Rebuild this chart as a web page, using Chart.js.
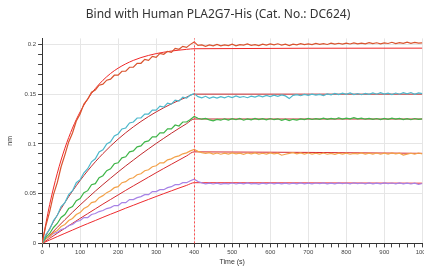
<!DOCTYPE html>
<html>
<head>
<meta charset="utf-8">
<script src="https://cdn.jsdelivr.net/npm/chart.js@4.4.0/dist/chart.umd.min.js"></script>
<style>
  html, body { margin: 0; padding: 0; background: #fff; overflow: hidden; }
  #wrap { width: 430px; height: 269px; }
</style>
</head>
<body>
<div id="wrap"><canvas id="bli" width="430" height="269"></canvas></div>
<script>
// sampling times of the raw curves (s)
const times = [0,10,20,30,40,50,60,70,80,90,100,110,120,130,140,150,160,170,180,190,200,
  210,220,230,240,250,260,270,280,290,300,310,320,330,340,350,360,370,380,390,400,
  410,420,430,440,450,460,470,480,490,500,510,520,530,540,550,560,570,580,590,600,
  610,620,630,640,650,660,670,680,690,700,710,720,730,740,750,760,770,780,790,800,
  810,820,830,840,850,860,870,880,890,900,910,920,930,940,950,960,970,980,990,1000];

// raw response (nm)
const redData = [0,0.018,0.032,0.049,0.061,0.077,0.089,0.102,0.111,0.123,0.130,0.140,0.145,0.152,0.154,0.159,0.160,0.164,0.165,0.169,0.169,
  0.173,0.173,0.177,0.177,0.181,0.181,0.185,0.184,0.188,0.187,0.191,0.190,0.193,0.192,0.196,0.195,0.198,0.197,0.200,0.2025,
  0.199,0.1995,0.198,0.1995,0.1985,0.2,0.1985,0.1995,0.1988,0.2002,0.1985,0.1998,0.1992,0.2005,0.199,0.1998,0.1988,0.2003,0.1992,0.2004,
  0.1995,0.2006,0.1993,0.2002,0.1988,0.2003,0.1996,0.2008,0.1998,0.2005,0.1997,0.2010,0.2,0.2008,0.1999,0.2012,0.2003,0.2011,0.2002,0.2013,
  0.2004,0.2015,0.2006,0.2012,0.2005,0.2018,0.2008,0.2016,0.2006,0.2014,0.2009,0.2021,0.2008,0.2017,0.2010,0.2022,0.2011,0.2019,0.2012,0.2016];
const cyanData = [0,0.009,0.014,0.023,0.028,0.037,0.041,0.049,0.053,0.061,0.064,0.071,0.075,0.082,0.085,0.092,0.094,0.100,0.102,0.108,0.110,
  0.115,0.116,0.121,0.122,0.126,0.126,0.130,0.130,0.134,0.134,0.138,0.137,0.141,0.140,0.144,0.143,0.147,0.146,0.149,0.1505,
  0.1475,0.1462,0.1478,0.1458,0.1472,0.146,0.1475,0.1462,0.1478,0.1465,0.1482,0.1468,0.1476,0.1464,0.148,0.147,0.1485,0.1472,0.1488,0.1475,
  0.149,0.1478,0.1492,0.1482,0.1455,0.1488,0.1495,0.1484,0.1498,0.1488,0.15,0.149,0.1498,0.1486,0.1502,0.1492,0.1508,0.1495,0.151,0.1497,
  0.1512,0.1496,0.1506,0.1494,0.1508,0.1497,0.1512,0.1499,0.1515,0.15,0.1509,0.1496,0.1511,0.1499,0.1514,0.1502,0.1516,0.1498,0.1512,0.1505];
const greenData = [0,0.006,0.010,0.016,0.020,0.026,0.029,0.035,0.037,0.043,0.045,0.051,0.053,0.059,0.060,0.066,0.068,0.073,0.075,0.080,0.081,
  0.086,0.087,0.092,0.093,0.097,0.098,0.102,0.103,0.107,0.107,0.111,0.111,0.115,0.115,0.119,0.118,0.122,0.122,0.1245,0.1275,
  0.1258,0.1248,0.1256,0.1242,0.1232,0.1246,0.1238,0.1252,0.124,0.1254,0.1243,0.1255,0.1238,0.1251,0.1242,0.1256,0.1244,0.1253,0.1241,0.1255,
  0.1243,0.1252,0.1236,0.1248,0.1234,0.1247,0.1239,0.1252,0.1244,0.1256,0.1245,0.1254,0.1246,0.1258,0.1247,0.1256,0.1248,0.1262,0.1249,0.1258,
  0.1252,0.1264,0.1251,0.1259,0.1248,0.1257,0.1246,0.1255,0.1244,0.1256,0.1247,0.1258,0.1249,0.1257,0.1245,0.1254,0.1243,0.1255,0.1247,0.1252];
const orangeData = [0,0.005,0.007,0.011,0.013,0.017,0.019,0.023,0.025,0.029,0.031,0.035,0.037,0.041,0.042,0.046,0.048,0.051,0.053,0.056,0.057,
  0.061,0.062,0.065,0.066,0.069,0.070,0.073,0.074,0.077,0.078,0.081,0.081,0.084,0.085,0.087,0.088,0.090,0.091,0.093,0.0945,
  0.0925,0.0912,0.0904,0.0912,0.0898,0.0908,0.0896,0.0906,0.0897,0.0909,0.0899,0.0907,0.0895,0.0908,0.0899,0.091,0.0898,0.0906,0.0897,0.0909,
  0.0899,0.0907,0.0886,0.0896,0.0904,0.0912,0.09,0.0909,0.0898,0.0908,0.0897,0.0906,0.0898,0.0908,0.0896,0.0905,0.0895,0.0906,0.0897,0.0907,
  0.0896,0.0905,0.0899,0.0909,0.0897,0.0907,0.0898,0.0908,0.0896,0.0906,0.0898,0.0909,0.0899,0.0906,0.0887,0.0897,0.0906,0.0898,0.0908,0.0899];
const purpleData = [0,0.005,0.007,0.010,0.011,0.014,0.015,0.018,0.019,0.022,0.023,0.026,0.026,0.029,0.030,0.032,0.033,0.035,0.036,0.038,0.038,
  0.041,0.041,0.044,0.044,0.046,0.047,0.049,0.049,0.052,0.052,0.054,0.054,0.056,0.057,0.059,0.059,0.061,0.061,0.063,0.0645,
  0.0622,0.0608,0.0598,0.0606,0.0597,0.0605,0.0596,0.0604,0.0598,0.0607,0.0597,0.0605,0.0599,0.0608,0.0598,0.0604,0.0596,0.0605,0.0599,0.0607,
  0.0598,0.0606,0.0599,0.0605,0.0597,0.0606,0.0598,0.0608,0.0599,0.0606,0.0598,0.0607,0.06,0.0609,0.0599,0.0606,0.0598,0.0608,0.06,0.0607,
  0.0598,0.0609,0.06,0.0607,0.0599,0.0608,0.0598,0.0606,0.0599,0.0608,0.06,0.0607,0.0599,0.0608,0.0598,0.0606,0.0597,0.0605,0.0592,0.0602];

// fitted curves
const fitTimes = [0,20,40,60,80,100,120,140,160,180,200,220,240,260,280,300,320,340,360,380,400,1000];
const redFit    = [0,0.0391,0.0705,0.0957,0.1159,0.1321,0.1451,0.1556,0.1639,0.1707,0.1761,0.1804,0.1839,0.1867,0.1889,0.1907,0.1921,0.1933,0.1942,0.1950,0.1956,0.1962];
const cyanFit   = [0,0.0149,0.0285,0.0411,0.0526,0.0632,0.0730,0.0820,0.0902,0.0978,0.1048,0.1112,0.1171,0.1225,0.1275,0.1321,0.1363,0.1402,0.1437,0.1470,0.1500,0.1500];
const greenFit  = [0,0.0082,0.0161,0.0238,0.0313,0.0386,0.0456,0.0525,0.0591,0.0655,0.0718,0.0779,0.0837,0.0895,0.0950,0.1004,0.1056,0.1107,0.1156,0.1203,0.1250,0.1250];
const orangeFit = [0,0.0051,0.0102,0.0152,0.0202,0.0251,0.0299,0.0347,0.0395,0.0441,0.0487,0.0533,0.0578,0.0622,0.0666,0.0710,0.0753,0.0795,0.0837,0.0879,0.0920,0.0905];
const purpleFit = [0,0.0034,0.0068,0.0101,0.0134,0.0167,0.0199,0.0230,0.0262,0.0293,0.0323,0.0354,0.0383,0.0413,0.0442,0.0471,0.0500,0.0528,0.0556,0.0583,0.0610,0.0605];

const associationEnd = 400;
const yTickLabels = [0, 0.05, 0.1, 0.15, 0.2];

function pts(xs, ys) { return xs.map((x, i) => ({ x: x, y: ys[i] })); }

// raw traces sit on top of the fits
function raw(arr, color) {
  return { data: pts(times, arr), borderColor: color, borderWidth: 1.2, pointRadius: 0, tension: 0, order: 1 };
}
function fit(arr, color) {
  return { data: pts(fitTimes, arr), borderColor: color, borderWidth: 1, pointRadius: 0, cubicInterpolationMode: "monotone", order: 2 };
}

// red dotted line where dissociation starts
const switchLine = {
  id: "switchLine",
  afterDatasetsDraw(chart) {
    const { ctx, chartArea, scales } = chart;
    const x = Math.round(scales.x.getPixelForValue(associationEnd)) + 0.5;
    ctx.save();
    ctx.strokeStyle = "#ff4c4c";
    ctx.lineWidth = 1;
    ctx.setLineDash([2, 2]);
    ctx.beginPath();
    ctx.moveTo(x, chartArea.bottom);
    ctx.lineTo(x, chartArea.top);
    ctx.stroke();
    ctx.restore();
  }
};

const onStep = (v, s) => Math.abs(v / s - Math.round(v / s)) < 1e-6;
const isYMajor = v => yTickLabels.some(l => Math.abs(l - v) < 1e-6);

new Chart(document.getElementById("bli"), {
  type: "line",
  data: {
    datasets: [
      raw(redData, "#d9532e"),
      raw(cyanData, "#4db8cc"),
      raw(greenData, "#3fb548"),
      raw(orangeData, "#f3a24a"),
      raw(purpleData, "#a783e6"),
      fit(redFit, "#f02828"),
      fit(cyanFit, "#c42a2e"),
      fit(greenFit, "#c02a2e"),
      fit(orangeFit, "#d82a2e"),
      fit(purpleFit, "#ee2a2e")
    ]
  },
  options: {
    responsive: false,
    animation: false,
    layout: { padding: { left: 6, right: 0, top: 0, bottom: 1 } },
    plugins: {
      legend: { display: false },
      tooltip: { enabled: false },
      title: {
        display: true,
        text: "Bind with Human PLA2G7-His (Cat. No.: DC624)",
        color: "#333",
        font: { family: "Noto Sans", size: 12, weight: "normal" },
        padding: { top: 7, bottom: 17 }
      }
    },
    scales: {
      x: {
        type: "linear",
        min: 0,
        max: 1000,
        border: { color: "#333", width: 1 },
        grid: {
          color: c => onStep(c.tick.value, 100) && c.tick.value > 0 ? "#e6e6e6" : "transparent",
          tickColor: "#444",
          tickLength: 4
        },
        ticks: {
          stepSize: 20,
          autoSkip: false,
          maxRotation: 0,
          padding: 1,
          color: "#444",
          font: { family: "Liberation Sans", size: 6 },
          callback: v => onStep(v, 100) ? String(v) : ""
        },
        title: {
          display: true,
          text: "Time (s)",
          color: "#333",
          font: { family: "Liberation Sans", size: 7 },
          padding: { top: 1, bottom: 2 }
        }
      },
      y: {
        min: 0,
        max: 0.206,
        border: { color: "#333", width: 1 },
        grid: {
          color: c => isYMajor(c.tick.value) && c.tick.value > 0 ? "#e6e6e6" : "transparent",
          tickColor: "#444",
          tickLength: 4
        },
        ticks: {
          stepSize: 0.01,
          includeBounds: false,
          autoSkip: false,
          padding: 2,
          color: "#444",
          font: { family: "Liberation Sans", size: 6 },
          callback: v => isYMajor(v) ? String(Math.round(v * 100) / 100) : ""
        },
        title: {
          display: true,
          text: "nm",
          color: "#333",
          font: { family: "Liberation Sans", size: 7 },
          padding: { top: 0, bottom: 8 }
        }
      }
    }
  },
  plugins: [switchLine]
});
</script>
</body>
</html>
